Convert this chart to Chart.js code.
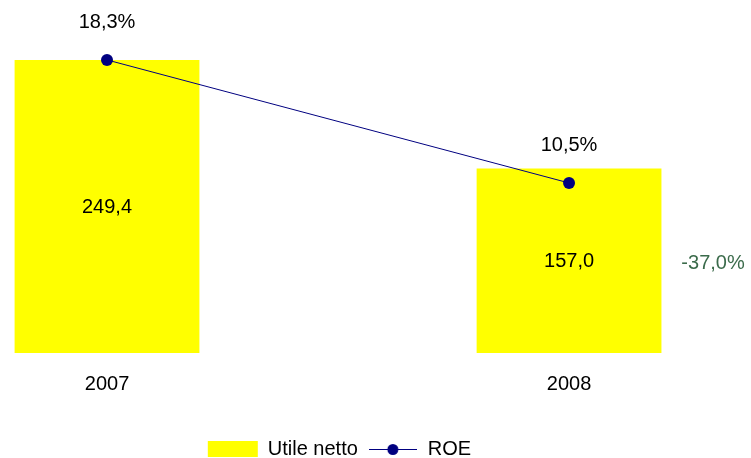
<!DOCTYPE html>
<html>
<head>
<meta charset="utf-8">
<title>Utile netto e ROE</title>
<script src="https://cdn.jsdelivr.net/npm/chart.js@4"></script>
<style>
    html, body { margin: 0; padding: 0; background: #fff; }
    #wrap { width: 751px; height: 458px; position: relative; }
</style>
</head>
<body>
<div id="wrap"><canvas id="chartUtile"></canvas></div>
<script>
// --- DATA ---
const years = ['2007', '2008'];
const utileNetto = [249.4, 157.0];
const roe = [18.3, 10.5];
const seriesNames = ['Utile netto', 'ROE'];

const FONT = "'Liberation Sans', Arial, sans-serif";

// Italiaanse notatie: komma als decimaalteken
function fmt(v) {
    return v.toFixed(1).replace('.', ',');
}

// variatie 2007 -> 2008
const variation = (utileNetto[1] - utileNetto[0]) / utileNetto[0] * 100;

// legend symbol voor ROE: lijn met punt
function lineDotIcon() {
    const c = document.createElement('canvas');
    c.width = 48; c.height = 14;
    const g = c.getContext('2d');
    g.strokeStyle = '#000080';
    g.lineWidth = 1;
    g.beginPath();
    g.moveTo(0, 7.5); g.lineTo(48, 7.5);
    g.stroke();
    g.fillStyle = '#000080';
    g.beginPath();
    g.arc(24, 7.5, 5.5, 0, Math.PI * 2);
    g.fill();
    return c;
}

// labels op de balken en punten
const valueLabels = {
    id: 'valueLabels',
    afterDatasetsDraw(chart) {
        const ctx = chart.ctx;
        ctx.save();
        ctx.font = '20px ' + FONT;
        ctx.textAlign = 'center';
        ctx.textBaseline = 'middle';
        ctx.fillStyle = '#000';

        const bars = chart.getDatasetMeta(0).data;
        bars.forEach((bar, i) => {
            ctx.fillText(fmt(utileNetto[i]), bar.x, (bar.y + bar.base) / 2 + 1);
        });

        chart.getDatasetMeta(1).data.forEach((pt, i) => {
            ctx.fillText(fmt(roe[i]) + '%', pt.x, pt.y - 37);
        });

        // variatie rechts van de tweede balk
        const last = bars[bars.length - 1];
        ctx.fillStyle = '#3b6b4b';
        ctx.fillText(fmt(variation) + '%', last.x + 144, (last.y + last.base) / 2 + 3);
        ctx.restore();
    }
};

const legendStyles = ['rect', lineDotIcon()];

new Chart(document.getElementById('chartUtile').getContext('2d'), {
    data: {
        datasets: [{
            type: 'bar',
            label: seriesNames[0],
            data: utileNetto.map((v, i) => ({ x: i, y: v })),
            backgroundColor: '#ffff00',
            borderWidth: 0,
            barPercentage: 0.4,
            categoryPercentage: 1,
            yAxisID: 'y',
            order: 2
        }, {
            type: 'line',
            label: seriesNames[1],
            data: roe.map((v, i) => ({ x: i, y: v })),
            borderColor: '#000080',
            borderWidth: 1,
            pointRadius: 6,
            pointBackgroundColor: '#000080',
            pointBorderColor: '#000080',
            pointBorderWidth: 0,
            yAxisID: 'y1',
            order: 1
        }]
    },
    options: {
        responsive: true,
        maintainAspectRatio: false,
        animation: false,
        layout: { autoPadding: false, padding: { left: 0, right: 72, top: 0, bottom: -11 } },
        plugins: {
            tooltip: { enabled: false },
            legend: {
                position: 'bottom',
                labels: {
                    color: '#000',
                    font: { family: FONT, size: 20 },
                    usePointStyle: true,
                    pointStyleWidth: 50,
                    boxHeight: 16,
                    padding: 10,
                    generateLabels(chart) {
                        const items = Chart.defaults.plugins.legend.labels.generateLabels(chart);
                        items.sort((a, b) => a.datasetIndex - b.datasetIndex);
                        items.forEach(it => {
                            it.pointStyle = legendStyles[it.datasetIndex];
                            it.lineWidth = 0;
                        });
                        return items;
                    }
                }
            }
        },
        scales: {
            x: {
                type: 'linear',
                offset: false,
                min: -0.2316,
                max: 1.238,
                grid: { display: false, drawTicks: false, offset: false },
                border: { display: false },
                afterBuildTicks(scale) {
                    scale.ticks = years.map((_, i) => ({ value: i }));
                },
                afterFit(scale) {
                    scale.height = 76;
                },
                ticks: {
                    padding: 19,
                    color: '#000',
                    font: { family: FONT, size: 20 },
                    maxRotation: 0,
                    autoSkip: false,
                    callback: (v) => years[v] !== undefined ? years[v] : ''
                }
            },
            y: {
                display: false,
                min: 0,
                max: 300.5
            },
            y1: {
                display: false,
                min: -0.28,
                max: 22.1
            }
        }
    },
    plugins: [valueLabels]
});
</script>
</body>
</html>
